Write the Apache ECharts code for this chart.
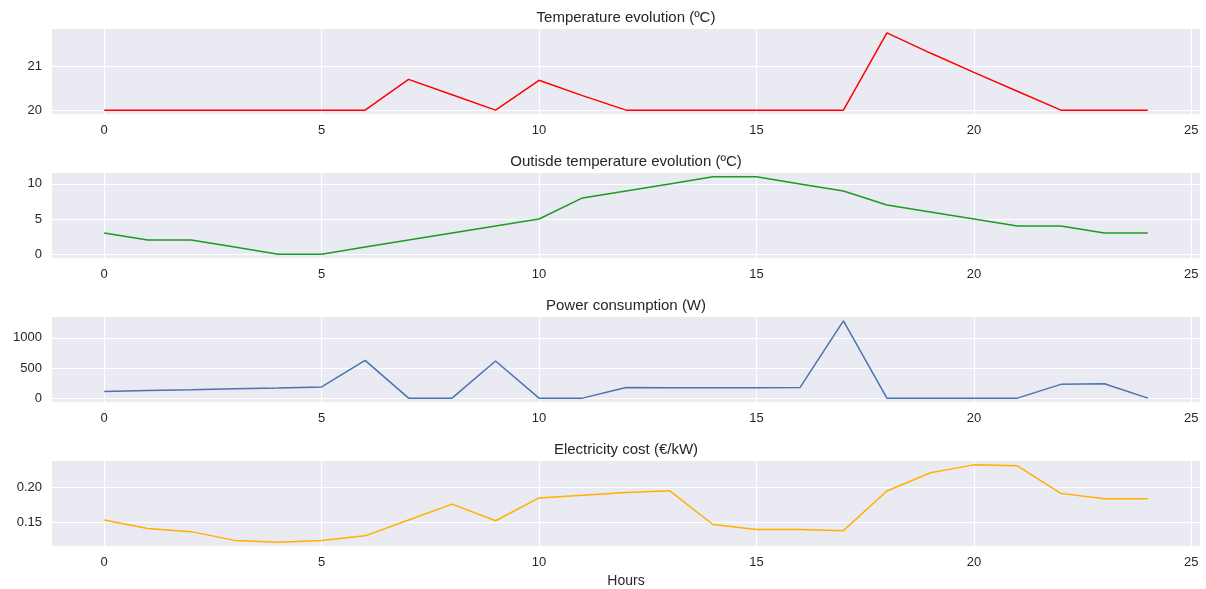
<!DOCTYPE html>
<html>
<head>
<meta charset="utf-8">
<script src="https://cdn.jsdelivr.net/npm/echarts@6/dist/echarts.min.js"></script>
<style>
html,body{margin:0;padding:0;background:#fff;}
#chart{width:1206px;height:589px;}
</style>
</head>
<body>
<div id="chart"></div>
<script>
// ---- data ----
const hours = [0,1,2,3,4,5,6,7,8,9,10,11,12,13,14,15,16,17,18,19,20,21,22,23,24];
const indoorTemp = [20,20,20,20,20,20,20,20.7,20.35,20.0,20.68,20.33,20,20,20,20,20,20,21.76,21.3,20.86,20.43,20,20,20];
const outdoorTemp = [3,2,2,1,0,0,1,2,3,4,5,8,9,10,11,11,10,9,7,6,5,4,4,3,3];
const power = [110,125,138,155,170,186,628,0,0,617,0,0,175,174,171,171,176,1283,0,0,0,0,229,240,0];
const cost = [0.153,0.141,0.1365,0.124,0.1215,0.124,0.1305,0.153,0.1757,0.152,0.1846,0.1883,0.1925,0.1949,0.1467,0.1397,0.1397,0.1379,0.1944,0.2206,0.2318,0.2304,0.1911,0.1836,0.1836];

const titles = ['Temperature evolution (ºC)','Outisde temperature evolution (ºC)','Power consumption (W)','Electricity cost (€/kW)'];
const xTicks = [0,5,10,15,20,25];
const indoorTicks = [20,21];
const outdoorTicks = [0,5,10];
const powerTicks = [0,500,1000];
const costTicks = [0.15,0.20];
const xLabel = 'Hours';

// ---- layout ----
const seriesData = [indoorTemp, outdoorTemp, power, cost];
const yTicks = [indoorTicks, outdoorTicks, powerTicks, costTicks];
const colors = ['#ff0000','#1f9a1f','#4c72b0','#ffb000'];
const tops = [29,173,317,461];
const H = 85, L = 52, R = 6;
const textColor = '#262626';
const font = 'Liberation Sans, Arial, sans-serif';

const grids = [], xAxes = [], yAxes = [], series = [], titleArr = [];
for (let i = 0; i < 4; i++) {
  grids.push({left: L, right: R, top: tops[i], height: H, show: true, backgroundColor: '#eaeaf2', borderWidth: 0});
  titleArr.push({
    text: titles[i], left: L + (1206 - L - R) / 2, top: tops[i] - 19, textAlign: 'center', padding: 0,
    textStyle: {fontFamily: font, fontSize: 15, fontWeight: 'normal', color: textColor}
  });
  xAxes.push({
    type: 'value', gridIndex: i, min: -1.2, max: 25.2,
    axisLine: {show: false}, axisTick: {show: false, customValues: xTicks},
    axisLabel: {customValues: xTicks, color: textColor, fontFamily: font, fontSize: 13, margin: 10},
    splitLine: {show: true, lineStyle: {color: '#ffffff', width: 1}},
    name: i === 3 ? xLabel : '', nameLocation: 'middle', nameGap: 28,
    nameTextStyle: {fontFamily: font, fontSize: 14, color: textColor}
  });
  const ticks = yTicks[i];
  yAxes.push({
    type: 'value', gridIndex: i,
    min: v => v.min - 0.05 * (v.max - v.min),
    max: v => v.max + 0.05 * (v.max - v.min),
    axisLine: {show: false}, axisTick: {show: false, customValues: ticks},
    axisLabel: {customValues: ticks, color: textColor, fontFamily: font, fontSize: 13, margin: 10,
      formatter: i === 3 ? (v => v.toFixed(2)) : (v => String(v))},
    splitLine: {show: true, lineStyle: {color: '#ffffff', width: 1}}
  });
  series.push({
    type: 'line', xAxisIndex: i, yAxisIndex: i,
    data: hours.map((h, k) => [h, seriesData[i][k]]),
    showSymbol: false, symbol: 'none', silent: true, animation: false,
    lineStyle: {color: colors[i], width: 1.5}
  });
}

const chart = echarts.init(document.getElementById('chart'), null, {renderer: 'canvas'});
chart.setOption({
  animation: false,
  backgroundColor: '#ffffff',
  title: titleArr,
  grid: grids,
  xAxis: xAxes,
  yAxis: yAxes,
  series: series
});
</script>
</body>
</html>
